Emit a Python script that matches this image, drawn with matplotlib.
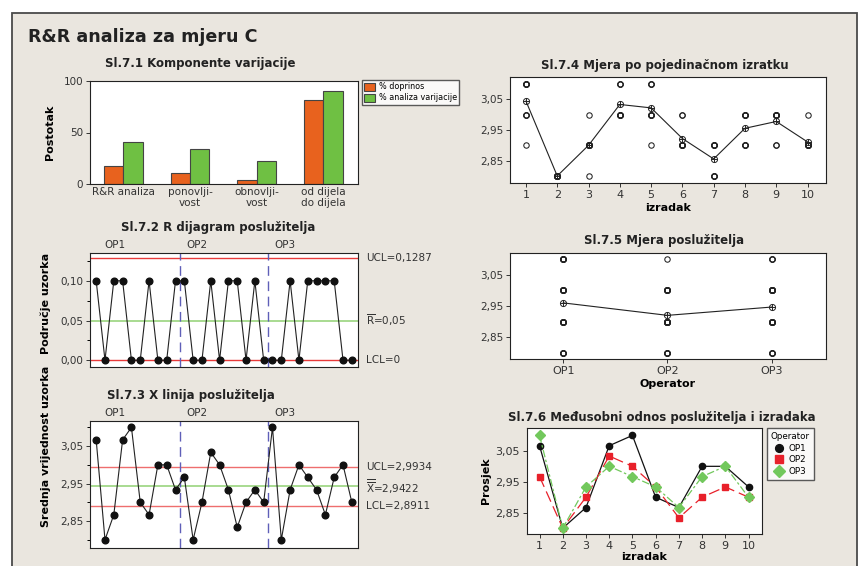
import numpy as np
import matplotlib.pyplot as plt
from matplotlib.patches import Rectangle
from matplotlib.ticker import FuncFormatter, FixedLocator

plt.rcParams["font.family"] = ["DejaVu Sans"]

W, H = 858, 566

components = ["R&R analiza", "ponovlji-\nvost", "obnovlji-\nvost", "od dijela\ndo dijela"]
pct_contribution = [17, 11, 4, 82]
pct_study_var = [41, 34, 22, 90]

parts = list(range(1, 11))
operators = ["OP1", "OP2", "OP3"]

# three repeated measurements of each part, per operator
op1_meas = [[3.0, 3.1, 3.1], [2.8, 2.8, 2.8], [2.8, 2.9, 2.9], [3.0, 3.1, 3.1], [3.1, 3.1, 3.1],
            [2.9, 2.9, 2.9], [2.8, 2.9, 2.9], [3.0, 3.0, 3.0], [3.0, 3.0, 3.0], [2.9, 2.9, 3.0]]
op2_meas = [[2.9, 3.0, 3.0], [2.8, 2.8, 2.8], [2.9, 2.9, 2.9], [3.0, 3.0, 3.1], [3.0, 3.0, 3.0],
            [2.9, 2.9, 3.0], [2.8, 2.8, 2.9], [2.9, 2.9, 2.9], [2.9, 2.9, 3.0], [2.9, 2.9, 2.9]]
op3_meas = [[3.1, 3.1, 3.1], [2.8, 2.8, 2.8], [2.9, 2.9, 3.0], [3.0, 3.0, 3.0], [2.9, 3.0, 3.0],
            [2.9, 2.9, 3.0], [2.8, 2.9, 2.9], [2.9, 3.0, 3.0], [3.0, 3.0, 3.0], [2.9, 2.9, 2.9]]

r_ucl, r_bar, r_lcl = 0.1287, 0.05, 0.0
x_ucl, x_bar, x_lcl = 2.9934, 2.9422, 2.8911

meas = np.array([op1_meas, op2_meas, op3_meas])  # (operator, part, trial)
sub_mean = meas.mean(axis=2)
sub_range = meas.max(axis=2) - meas.min(axis=2)

RED = "#e83a3a"
RED_L = "#ee6e6e"
GREEN_L = "#9ad47e"
DASH_BLUE = "#5f5fb8"


def rect(l, t, r, b):
    return [l / W, 1 - b / H, (r - l) / W, (b - t) / H]


def fx(x):
    return x / W


def fy(y):
    return 1 - y / H


comma = FuncFormatter(lambda v, p: f"{v:.2f}".replace(".", ","))

fig = plt.figure(figsize=(W / 100, H / 100), dpi=100, facecolor="white")
fig.patches.append(Rectangle((12 / W, -0.05), (857 - 12) / W, fy(13) + 0.05,
                             transform=fig.transFigure, facecolor="#eae6df",
                             edgecolor="#4a4a4a", lw=1.3, zorder=-10))

fig.text(fx(28), fy(37), "R&R analiza za mjeru C", fontsize=12.6, fontweight="bold",
         va="center", ha="left", color="#222222")


def style(ax):
    ax.set_facecolor("white")
    for s in ax.spines.values():
        s.set_linewidth(0.8)
        s.set_color("#222222")
    ax.tick_params(labelsize=7.5, length=3, width=0.7, colors="#333333", pad=2)


def title(x, y, s):
    fig.text(fx(x), fy(y), s, fontsize=8.5, fontweight="bold", ha="center", va="center",
             color="#222222")


# Sl.7.1 components of variation
ax1 = fig.add_axes(rect(90, 81, 358, 184))
style(ax1)
xc = np.arange(len(components))
bw = 0.29
ax1.bar(xc - bw / 2, pct_contribution, bw, color="#e8621e", edgecolor="#444444", lw=0.8,
        label="% doprinos")
ax1.bar(xc + bw / 2, pct_study_var, bw, color="#6fc043", edgecolor="#444444", lw=0.8,
        label="% analiza varijacije")
ax1.set_xlim(-0.5, 3.52)
ax1.set_ylim(0, 100)
ax1.set_yticks([0, 50, 100])
ax1.set_xticks(xc)
ax1.set_xticklabels(components, fontsize=7.5)
ax1.tick_params(axis="x", length=0)
ax1.legend(loc="upper left", bbox_to_anchor=(fx(362), fy(80)), bbox_transform=fig.transFigure,
           fontsize=5.8, frameon=True, fancybox=False, edgecolor="#333333", borderaxespad=0,
           handlelength=1.3, handleheight=1.1, borderpad=0.3, labelspacing=0.25,
           handletextpad=0.5)
title(200, 64, "Sl.7.1 Komponente varijacije")
fig.text(fx(50), fy(132), "Postotak", rotation=90, fontsize=8, fontweight="bold",
         ha="center", va="center")

# Sl.7.2 R chart
idx = np.arange(1, 31)
ax2 = fig.add_axes(rect(90, 253, 358, 367))
style(ax2)
ax2.axhline(r_ucl, color=RED, lw=1.0)
ax2.axhline(r_lcl, color=RED, lw=1.0)
ax2.axhline(r_bar, color=GREEN_L, lw=1.2)
ax2.axvline(10.5, color=DASH_BLUE, lw=1.0, ls=(0, (7, 4)))
ax2.axvline(20.5, color=DASH_BLUE, lw=1.0, ls=(0, (7, 4)))
ax2.plot(idx, sub_range.ravel(), color="#222222", lw=0.8, marker="o", ms=4.8, mfc="#111111",
         mec="#111111", zorder=3, clip_on=False)
ax2.set_xlim(0.3, 30.7)
ax2.set_ylim(-0.0085, 0.135)
ax2.set_xticks([])
ax2.yaxis.set_major_locator(FixedLocator([0.0, 0.05, 0.10]))
ax2.yaxis.set_minor_locator(FixedLocator([0.025, 0.075, 0.125]))
ax2.yaxis.set_major_formatter(comma)
ax2.tick_params(axis="y", which="minor", length=2.5, width=0.7)
ax2.text(1.03, r_ucl, "UCL=0,1287", transform=ax2.get_yaxis_transform(), fontsize=7.5,
         va="center", color="#333333")
ax2.text(1.03, r_bar, r"$\overline{\mathrm{R}}$=0,05", transform=ax2.get_yaxis_transform(),
         fontsize=7.5, va="center", color="#333333")
ax2.text(1.03, r_lcl, "LCL=0", transform=ax2.get_yaxis_transform(), fontsize=7.5,
         va="center", color="#333333")
title(218, 228, "Sl.7.2 R dijagram poslužitelja")
for xo, op in zip([3.15, 12.4, 22.4], operators):
    ax2.text(xo, 1.025, op, transform=ax2.get_xaxis_transform(), fontsize=7.5, ha="center",
             va="bottom", color="#333333")
fig.text(fx(46), fy(303), "Područje uzorka", rotation=90, fontsize=8, fontweight="bold",
         ha="center", va="center")

# Sl.7.3 Xbar chart
ax3 = fig.add_axes(rect(90, 421, 358, 548))
style(ax3)
ax3.axhline(x_ucl, color=RED_L, lw=1.0)
ax3.axhline(x_lcl, color=RED_L, lw=1.0)
ax3.axhline(x_bar, color=GREEN_L, lw=1.2)
ax3.axvline(10.5, color=DASH_BLUE, lw=1.0, ls=(0, (7, 4)))
ax3.axvline(20.5, color=DASH_BLUE, lw=1.0, ls=(0, (7, 4)))
ax3.plot(idx, sub_mean.ravel(), color="#222222", lw=0.8, marker="o", ms=4.8, mfc="#111111",
         mec="#111111", zorder=3)
ax3.set_xlim(0.3, 30.7)
ax3.set_ylim(2.778, 3.117)
ax3.set_xticks([])
ax3.yaxis.set_major_locator(FixedLocator([2.85, 2.95, 3.05]))
ax3.yaxis.set_minor_locator(FixedLocator([2.80, 2.90, 3.00, 3.10]))
ax3.yaxis.set_major_formatter(comma)
ax3.tick_params(axis="y", which="minor", length=2.5, width=0.7)
ax3.text(1.03, x_ucl, "UCL=2,9934", transform=ax3.get_yaxis_transform(), fontsize=7.5,
         va="center", color="#333333")
ax3.text(1.03, x_bar, r"$\overline{\overline{\mathrm{X}}}$=2,9422",
         transform=ax3.get_yaxis_transform(), fontsize=7.5, va="center", color="#333333")
ax3.text(1.03, x_lcl, "LCL=2,8911", transform=ax3.get_yaxis_transform(), fontsize=7.5,
         va="center", color="#333333")
title(191, 395, "Sl.7.3 X linija poslužitelja")
for xo, op in zip([3.15, 12.4, 22.4], operators):
    ax3.text(xo, 1.025, op, transform=ax3.get_xaxis_transform(), fontsize=7.5, ha="center",
             va="bottom", color="#333333")
fig.text(fx(46), fy(446), "Srednja vrijednost uzorka", rotation=90, fontsize=8,
         fontweight="bold", ha="center", va="center")

# Sl.7.4 measurement by part
ax4 = fig.add_axes(rect(510, 77, 826, 183))
style(ax4)
for p in range(10):
    vals = meas[:, p, :].ravel()
    ax4.plot([parts[p]] * len(vals), vals, ls="none", marker="o", ms=3.9, mfc="none",
             mec="#222222", mew=0.75)
part_mean = meas.mean(axis=(0, 2))
ax4.plot(parts, part_mean, color="#222222", lw=0.8, marker="o", ms=4.4, mfc="none",
         mec="#222222", mew=0.7)
ax4.plot(parts, part_mean, ls="none", marker="+", ms=4.4, mec="#222222", mew=0.7)
ax4.set_xlim(0.49, 10.59)
ax4.set_ylim(2.777, 3.123)
ax4.set_xticks(parts)
ax4.yaxis.set_major_locator(FixedLocator([2.85, 2.95, 3.05]))
ax4.yaxis.set_major_formatter(comma)
ax4.tick_params(axis="x", labelsize=8)
ax4.set_xlabel("izradak", fontsize=8, fontweight="bold", labelpad=2)
title(665, 66, "Sl.7.4 Mjera po pojedinačnom izratku")

# Sl.7.5 measurement by operator
ax5 = fig.add_axes(rect(510, 253, 826, 359))
style(ax5)
for o in range(3):
    vals = meas[o].ravel()
    ax5.plot([o + 1] * len(vals), vals, ls="none", marker="o", ms=3.9, mfc="none",
             mec="#222222", mew=0.75)
op_mean = meas.mean(axis=(1, 2))
ax5.plot([1, 2, 3], op_mean, color="#222222", lw=0.8, marker="o", ms=4.4, mfc="none",
         mec="#222222", mew=0.7)
ax5.plot([1, 2, 3], op_mean, ls="none", marker="+", ms=4.4, mec="#222222", mew=0.7)
ax5.set_xlim(0.49, 3.52)
ax5.set_ylim(2.78, 3.12)
ax5.set_xticks([1, 2, 3])
ax5.set_xticklabels(operators)
ax5.yaxis.set_major_locator(FixedLocator([2.85, 2.95, 3.05]))
ax5.yaxis.set_major_formatter(comma)
ax5.tick_params(axis="x", labelsize=8)
ax5.set_xlabel("Operator", fontsize=8, fontweight="bold", labelpad=2)
title(664, 241, "Sl.7.5 Mjera poslužitelja")

# Sl.7.6 interaction
ax6 = fig.add_axes(rect(527, 428, 762, 534))
style(ax6)
ax6.plot(parts, sub_mean[0], color="#111111", lw=0.9, marker="o", ms=4.5, label="OP1")
ax6.plot(parts, sub_mean[1], color="#e8202a", lw=0.9, ls=(0, (9, 4)), marker="s", ms=4.6,
         label="OP2")
ax6.plot(parts, sub_mean[2], color="#72c85c", lw=0.9, ls=(0, (6, 2, 2, 2)), marker="D",
         ms=4.6, label="OP3")
ax6.set_xlim(0.46, 10.58)
ax6.set_ylim(2.781, 3.124)
ax6.set_xticks(parts)
ax6.yaxis.set_major_locator(FixedLocator([2.85, 2.95, 3.05]))
ax6.yaxis.set_major_formatter(comma)
ax6.tick_params(axis="x", labelsize=8)
ax6.tick_params(axis="y", labelsize=8)
ax6.set_xlabel("izradak", fontsize=8, fontweight="bold", labelpad=1)
ax6.set_ylabel("Prosjek", fontsize=8, fontweight="bold", labelpad=3)
leg = ax6.legend(loc="upper left", bbox_to_anchor=(fx(767), fy(428)),
                 bbox_transform=fig.transFigure, title="Operator", fontsize=6.3,
                 title_fontsize=6.3, frameon=True, fancybox=False, edgecolor="#333333",
                 borderaxespad=0, handlelength=1.0, borderpad=0.45, labelspacing=0.3,
                 handletextpad=0.5, markerscale=1.25)
for h in leg.legend_handles:
    h.set_linestyle("none")
title(662, 417, "Sl.7.6 Međusobni odnos poslužitelja i izradaka")

fig.savefig("out.png", dpi=100, facecolor="white")
